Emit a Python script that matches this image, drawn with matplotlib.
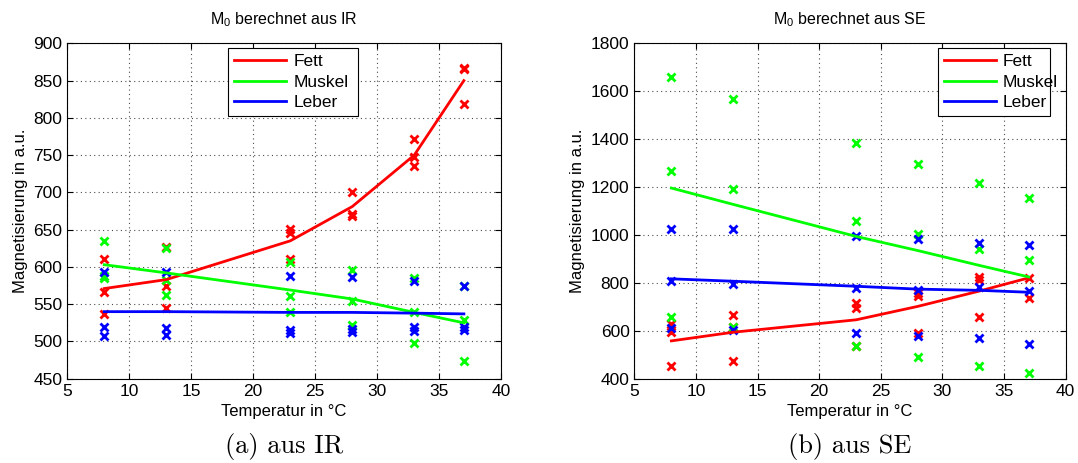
import numpy as np
import matplotlib
matplotlib.use("Agg")
import matplotlib.pyplot as plt

plt.rcParams['font.family'] = ['Liberation Sans', 'DejaVu Sans']
plt.rcParams['font.size'] = 12

# temperatures of the measurement series
temps = [8, 13, 23, 28, 33, 37]

# M0 from IR, single measurements per temperature
ir_fett = [[611, 566, 537], [627, 575, 545], [651, 645, 610],
           [700, 671, 668], [771, 748, 735], [867, 865, 818]]
ir_muskel = [[635, 588, 585], [626, 583, 563], [607, 561, 540],
             [596, 554, 522], [585, 540, 498], [575, 529, 474]]
ir_leber = [[593, 520, 507], [593, 518, 509], [588, 516, 512],
            [587, 517, 513], [581, 520, 514], [575, 519, 515]]

# fitted curves (IR)
ir_fit_fett = [571, 583, 635, 681, 750, 850]
ir_fit_muskel = [603, 592, 569, 557, 539, 525]
ir_fit_leber = [540, 540, 539, 539, 538, 537]

# M0 from SE
se_fett = [[628, 597, 455], [664, 618, 476], [717, 697, 535],
           [757, 745, 592], [825, 814, 658], [821, 737]]
se_muskel = [[1661, 1269, 658], [1566, 1193, 617], [1386, 1057, 535],
             [1297, 1003, 492], [1219, 940, 455], [1155, 897, 425]]
se_leber = [[1026, 806, 610], [1025, 797, 605], [994, 779, 589],
            [984, 772, 577], [967, 782, 568], [960, 768, 547]]

# fitted curves (SE)
se_fit_fett = [558, 594, 646, 702, 766, 821]
se_fit_muskel = [1196, 1128, 994, 935, 873, 825]
se_fit_leber = [817, 807, 786, 774, 769, 761]

labels = ['Fett', 'Muskel', 'Leber']
colors = [(1, 0, 0), (0, 1, 0), (0, 0, 1)]


def scatter_series(ax, values, color):
    xs, ys = [], []
    for t, vals in zip(temps, values):
        xs += [t] * len(vals)
        ys += vals
    ax.plot(xs, ys, 'x', color=color, ms=6, mew=2, zorder=3)


def style_axes(ax, ylim, yticks):
    ax.set_xlim(5, 40)
    ax.set_xticks(range(5, 41, 5))
    ax.set_ylim(*ylim)
    ax.set_yticks(yticks)
    ax.tick_params(direction='in', top=True, right=True, length=4, labelsize=12.5)
    ax.grid(True, color='0.3', linestyle=(0, (1, 3)), linewidth=0.8)
    ax.set_axisbelow(True)
    for s in ax.spines.values():
        s.set_linewidth(0.8)
    ax.set_xlabel('Temperatur in °C', fontsize=12)
    ax.set_ylabel('Magnetisierung in a.u.', fontsize=12)


fig = plt.figure(figsize=(10.78, 4.63), dpi=100)
ax1 = fig.add_axes([0.0622, 0.182, 0.4026, 0.7244])
ax2 = fig.add_axes([0.5885, 0.182, 0.4000, 0.7244])

panels = [
    (ax1, [ir_fett, ir_muskel, ir_leber], [ir_fit_fett, ir_fit_muskel, ir_fit_leber],
     'IR', (450, 900), range(450, 901, 50), (0.371, 0.986, 0.299, 0.215), '(a) aus IR'),
    (ax2, [se_fett, se_muskel, se_leber], [se_fit_fett, se_fit_muskel, se_fit_leber],
     'SE', (400, 1800), range(400, 1801, 200), (0.704, 0.986, 0.260, 0.215), '(b) aus SE'),
]

for ax, data, fits, name, ylim, yticks, legbox, caption in panels:
    for vals, c in zip(data, colors):
        scatter_series(ax, vals, c)
    handles = []
    for fit, c, lab in zip(fits, colors, labels):
        h, = ax.plot(temps, fit, '-', color=c, lw=2, label=lab, zorder=4)
        handles.append(h)
    style_axes(ax, ylim, yticks)
    ax.set_title(r'M$_{\mathregular{0}}$ berechnet aus ' + name, fontsize=11.5, pad=14)
    leg = ax.legend(handles=handles, loc='upper left',
                    bbox_to_anchor=(legbox[0], legbox[1], legbox[2], 0.0),
                    mode='expand', fancybox=False, framealpha=1, edgecolor='black',
                    handlelength=3.0, fontsize=12.5, borderaxespad=0, labelspacing=0.3,
                    borderpad=0.35, handletextpad=0.4)
    leg.get_frame().set_linewidth(0.8)
    bb = ax.get_position()
    fig.text(bb.x0 + bb.width / 2, 0.035, caption, ha='center', va='center',
             family='cmr10', fontsize=19)

fig.savefig('out.png', dpi=100)
